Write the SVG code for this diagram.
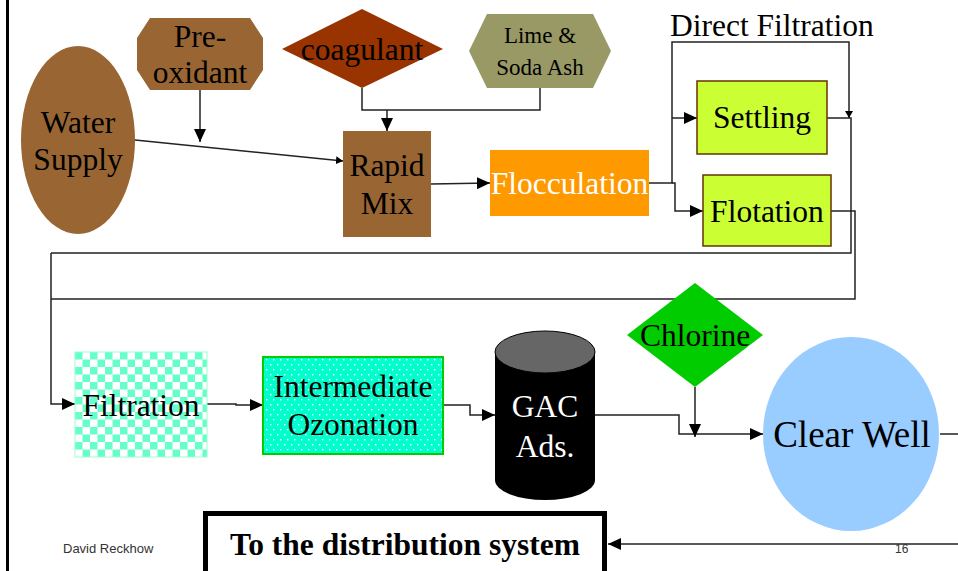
<svg xmlns="http://www.w3.org/2000/svg" width="958" height="571" viewBox="0 0 958 571">
<style>
.t{font-family:"Liberation Serif","Times New Roman",serif;font-size:31.5px;fill:#000;text-anchor:middle}
.w{fill:#fff}
.c{fill:none;stroke:#222;stroke-width:1.5}
.ft{font-family:"Liberation Sans",Arial,sans-serif;fill:#333}
</style>
<defs>
<marker id="arr" markerUnits="userSpaceOnUse" markerWidth="13" markerHeight="12" refX="13" refY="6" orient="auto"><path d="M0,0 L13,6 L0,12 z" fill="#000"/></marker>
<marker id="arrS" markerUnits="userSpaceOnUse" markerWidth="7" markerHeight="8" refX="7" refY="4" orient="auto"><path d="M0,0 L7,4 L0,8 z" fill="#000"/></marker>
<pattern id="check" patternUnits="userSpaceOnUse" x="75" y="352" width="15" height="15"><rect width="15" height="15" fill="#fff"/><rect width="7.5" height="7.5" fill="#66FFCC"/><rect x="7.5" y="7.5" width="7.5" height="7.5" fill="#66FFCC"/></pattern>
<pattern id="dots" patternUnits="userSpaceOnUse" x="263" y="357" width="7" height="10"><rect width="7" height="10" fill="#00FFCC"/><rect x="3" y="2" width="1.4" height="1.4" fill="#fff"/><rect x="0" y="7" width="1.4" height="1.4" fill="#fff"/></pattern>
</defs>
<rect width="958" height="571" fill="#fff"/>
<line x1="7.5" y1="0" x2="7.5" y2="571" stroke="#000" stroke-width="3"/>

<g id="connectors">
<line class="c" x1="135" y1="140" x2="343" y2="161" marker-end="url(#arrS)"/>
<line class="c" x1="200" y1="90" x2="200" y2="142" marker-end="url(#arr)"/>
<polyline class="c" points="362,88 362,110 540,110 540,88"/>
<line class="c" x1="387" y1="110" x2="387" y2="131" marker-end="url(#arr)"/>
<line class="c" x1="431" y1="184" x2="490" y2="183" marker-end="url(#arr)"/>
<polyline class="c" points="649,183 672,183 672,42 849,42 849,118" marker-end="url(#arrS)"/>
<line class="c" x1="672" y1="118" x2="697" y2="118" marker-end="url(#arr)"/>
<polyline class="c" points="672,183 675,183 675,211 703,211" marker-end="url(#arr)"/>
<polyline class="c" points="827,118 851,118 851,253 51,253"/>
<polyline class="c" points="831,211 855,211 855,299 51,299"/>
<polyline class="c" points="51,253 51,404 75,404" marker-end="url(#arr)"/>
<polyline class="c" points="207,404 236,404 236,405 263,405" marker-end="url(#arr)"/>
<polyline class="c" points="443,405 470,405 470,415 495,415" marker-end="url(#arr)"/>
<polyline class="c" points="595,415 679,415 679,434 763,434" marker-end="url(#arr)"/>
<line class="c" x1="695" y1="387" x2="695" y2="437" marker-end="url(#arr)"/>
<line class="c" x1="940" y1="434" x2="958" y2="434"/>
<line class="c" x1="958" y1="544" x2="608" y2="544" marker-end="url(#arr)"/>
</g>

<g id="water-supply">
<ellipse cx="78" cy="140" rx="57" ry="94" fill="#996633"/>
<text class="t" x="78" y="133">Water</text>
<text class="t" x="78" y="170">Supply</text>
</g>
<g id="pre-oxidant">
<polygon points="150,18 250,18 263,38 263,70 250,90 150,90 137,70 137,38" fill="#996633"/>
<text class="t" x="200" y="47">Pre-</text>
<text class="t" x="200" y="83">oxidant</text>
</g>
<g id="coagulant">
<polygon points="282,49 362,9 443,49 362,88" fill="#993300"/>
<text class="t" x="362" y="60">coagulant</text>
</g>
<g id="lime">
<polygon points="469,51 487,14 593,14 611,51 593,88 487,88" fill="#999966"/>
<text class="t" x="540" y="43" style="font-size:23px">Lime &amp;</text>
<text class="t" x="540" y="75" style="font-size:23px">Soda Ash</text>
</g>
<g id="rapid-mix">
<rect x="343" y="131" width="88" height="106" fill="#996633"/>
<text class="t" x="387" y="176">Rapid</text>
<text class="t" x="387" y="214">Mix</text>
</g>
<g id="flocculation">
<rect x="490" y="150" width="159" height="66" fill="#FF9900"/>
<text class="t w" x="569.5" y="194">Flocculation</text>
</g>
<g id="direct-filtration">
<text class="t" x="670" y="36" style="text-anchor:start;font-size:31.5px">Direct Filtration</text>
</g>
<g id="settling">
<rect x="697" y="81" width="130" height="73" fill="#CCFF33" stroke="#663300" stroke-width="1.5"/>
<text class="t" x="762" y="128">Settling</text>
</g>
<g id="flotation">
<rect x="703" y="175" width="128" height="71" fill="#CCFF33" stroke="#663300" stroke-width="1.5"/>
<text class="t" x="767" y="222">Flotation</text>
</g>
<g id="filtration">
<rect x="75" y="352" width="132" height="105" fill="url(#check)" stroke="#99FFCC" stroke-width="1"/>
<text class="t" x="141" y="416">Filtration</text>
</g>
<g id="ozonation">
<rect x="263" y="357" width="180" height="97" fill="url(#dots)" stroke="#00CC00" stroke-width="2"/>
<text class="t" x="353" y="397">Intermediate</text>
<text class="t" x="353" y="435">Ozonation</text>
</g>
<g id="gac">
<path d="M495,352 L495,480 A50,20 0 0 0 595,480 L595,352 z" fill="#000"/>
<ellipse cx="545" cy="352" rx="50" ry="21" fill="#666" stroke="#000" stroke-width="1"/>
<text class="t w" x="545" y="417">GAC</text>
<text class="t w" x="545" y="457">Ads.</text>
</g>
<g id="chlorine">
<polygon points="627,335 695,283 763,335 695,387" fill="#00CC00"/>
<text class="t" x="695" y="346">Chlorine</text>
</g>
<g id="clear-well">
<ellipse cx="851" cy="434" rx="88" ry="97" fill="#99CCFF"/>
<text class="t" x="852" y="447" style="font-size:37px">Clear Well</text>
</g>
<g id="distribution">
<rect x="205.5" y="513.5" width="399" height="80" fill="#fff" stroke="#000" stroke-width="5"/>
<text class="t" x="405" y="555" style="font-weight:bold;font-size:31.5px">To the distribution system</text>
</g>
<text class="ft" x="63" y="553" style="font-size:13px">David Reckhow</text>
<text class="ft" x="895" y="553" style="font-size:12px">16</text>
</svg>
